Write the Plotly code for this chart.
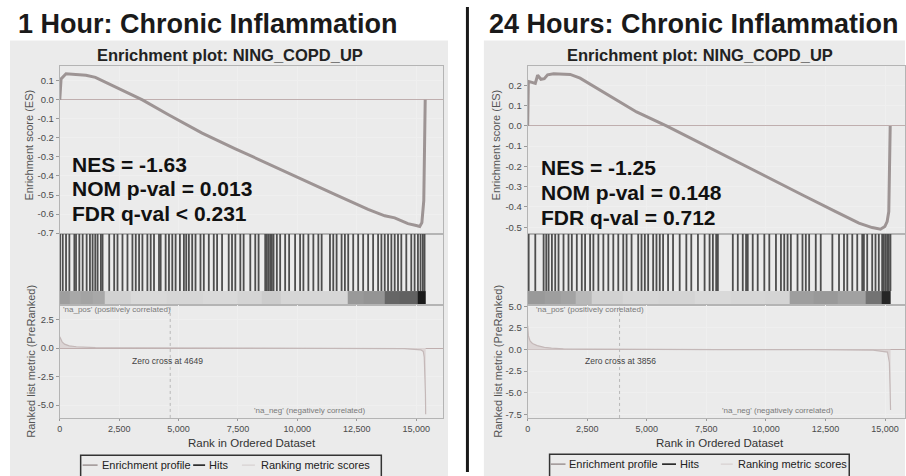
import plotly.graph_objects as go

W, H = 906, 476
FONT = "Liberation Sans"


def px(x):
    return x / W


def py(y):
    return 1 - y / H


# ---------------- data ----------------
left_title = "1 Hour: Chronic Inflammation"
right_title = "24 Hours: Chronic Inflammation"
subtitle = "Enrichment plot: NING_COPD_UP"
left_stats = ["NES = -1.63", "NOM p-val = 0.013", "FDR q-val < 0.231"]
right_stats = ["NES = -1.25", "NOM p-val = 0.148", "FDR q-val = 0.712"]
left_zero_cross = 4649
right_zero_cross = 3856

x_tick_vals = [0, 2500, 5000, 7500, 10000, 12500, 15000]
x_tick_text = ["0", "2,500", "5,000", "7,500", "10,000", "12,500", "15,000"]

left_es_tick_vals = [0.1, 0.0, -0.1, -0.2, -0.3, -0.4, -0.5, -0.6, -0.7]
left_es_tick_text = ["0.1", "0.0", "-0.1", "-0.2", "-0.3", "-0.4", "-0.5", "-0.6", "-0.7"]
right_es_tick_vals = [0.2, 0.1, 0.0, -0.1, -0.2, -0.3, -0.4, -0.5]
right_es_tick_text = ["0.2", "0.1", "0.0", "-0.1", "-0.2", "-0.3", "-0.4", "-0.5"]
left_metric_tick_vals = [2.5, 0.0, -2.5, -5.0]
left_metric_tick_text = ["2.5", "0.0", "-2.5", "-5.0"]
right_metric_tick_vals = [5.0, 2.5, 0.0, -2.5, -5.0, -7.5]
right_metric_tick_text = ["5.0", "2.5", "0.0", "-2.5", "-5.0", "-7.5"]

# running enrichment score
left_es_rank = [0, 20, 55, 265, 600, 1103, 1500, 1802, 2100, 2500, 3000, 3478, 4596,
                5992, 7390, 8787, 10183, 11577, 12977, 13677, 14096, 14654, 15000,
                15150, 15240, 15320, 15350, 15380]
left_es_value = [0.0, 0.09, 0.11, 0.137, 0.133, 0.129, 0.118, 0.10, 0.085, 0.057, 0.028,
                 0.0, -0.08, -0.175, -0.257, -0.338, -0.415, -0.496, -0.575, -0.609,
                 -0.62, -0.65, -0.66, -0.665, -0.645, -0.53, -0.27, 0.0]

right_es_rank = [0, 28, 180, 320, 418, 557, 697, 836, 1087, 1500, 1783, 2200, 3176,
                 4569, 5823, 7355, 8748, 10141, 11534, 12927, 13902, 14459, 14807,
                 14989, 15086, 15156, 15190, 15215]
right_es_value = [0.0, 0.22, 0.215, 0.21, 0.25, 0.23, 0.233, 0.252, 0.257, 0.256, 0.254,
                  0.236, 0.167, 0.069, 0.0, -0.092, -0.177, -0.259, -0.341, -0.423,
                  -0.48, -0.502, -0.51, -0.497, -0.472, -0.423, -0.21, 0.0]

# gene-set hit positions (ranks)
left_hits = [14, 126, 265, 405, 615, 685, 824, 964, 1132, 1271, 1383, 1495, 1593, 1732,
             1802, 2082, 2291, 2431, 2640, 2850, 3059, 3199, 3339, 3479, 3688, 3828,
             3967, 4177, 4247, 4456, 4596, 4736, 4876, 5057, 5225, 5323, 5434, 5574,
             5714, 5923, 6063, 6273, 6482, 6622, 6831, 7111, 7250, 7390, 7600, 7739,
             8019, 8228, 8368, 8647, 8717, 8787, 8857, 8927, 8997, 9136, 9276, 9486,
             9653, 9905, 10114, 10254, 10464, 10673, 10883, 11022, 11372, 11511, 11651,
             11861, 12000, 12140, 12350, 12559, 12769, 12978, 13188, 13397, 13537,
             13677, 13816, 13956, 14096, 14235, 14375, 14585, 14794, 14934, 15074,
             15185, 15283, 15353]
right_hits = [42, 320, 669, 780, 878, 1017, 1156, 1295, 1504, 1713, 1853, 2062, 2271,
              2410, 2619, 2758, 2967, 3176, 3385, 3594, 3803, 4012, 4151, 4360, 4638,
              4778, 4917, 5057, 5266, 5405, 5544, 5683, 5892, 6101, 6380, 6659, 6867,
              7146, 7425, 7634, 7773, 7912, 7982, 8609, 8818, 9027, 9166, 9236, 9445,
              9654, 9932, 10141, 10420, 10629, 10768, 10907, 11046, 11325, 11534, 11673,
              11813, 12091, 12300, 12788, 13066, 13275, 13415, 13624, 13832, 14041,
              14111, 14250, 14459, 14598, 14737, 14877, 14947, 15016, 15086, 15156,
              15225]

# rank-metric colour band (grey level 0 = black, 1 = white), bin edges in rank
left_band_edges = [0, 400, 900, 1400, 1900, 3000, 4500, 6000, 7500, 8500, 9300, 10500,
                   12140, 12800, 13677, 14300, 15074, 15400]
left_band_level = [0.62, 0.66, 0.64, 0.66, 0.82, 0.85, 0.84, 0.85, 0.83, 0.80, 0.84,
                   0.84, 0.60, 0.58, 0.40, 0.38, 0.10]
right_band_edges = [0, 700, 1400, 2000, 2689, 4000, 5500, 7000, 8500, 10000, 10977,
                    12000, 13000, 14181, 14877, 15230]
right_band_level = [0.60, 0.62, 0.64, 0.72, 0.82, 0.84, 0.83, 0.85, 0.84, 0.83, 0.62,
                    0.60, 0.63, 0.45, 0.15]

# ranked list metric
left_metric_rank = [0, 30, 100, 200, 400, 700, 1000, 1500, 2500, 3400, 4649, 8000,
                    12000, 14500, 15200, 15300, 15340, 15370, 15390, 15400]
left_metric_value = [1.0, 0.8, 0.55, 0.35, 0.2, 0.12, 0.08, 0.05, 0.03, 0.02, 0.0,
                     -0.01, -0.02, -0.05, -0.15, -0.3, -0.8, -2.0, -4.0, -5.8]
right_metric_rank = [0, 30, 100, 200, 400, 700, 1000, 1500, 2500, 3500, 3856, 8000,
                     12000, 14500, 15100, 15180, 15210, 15230]
right_metric_value = [2.75, 1.6, 1.0, 0.7, 0.45, 0.25, 0.15, 0.08, 0.04, 0.02, 0.0,
                      -0.01, -0.03, -0.08, -0.3, -1.5, -4.5, -7.0]

legend_labels = ["Enrichment profile", "Hits", "Ranking metric scores"]

# ---------------- styles ----------------
ES_COLOR = "#9d9494"
HIT_COLOR = "#4e4e4e"
METRIC_LINE = "#c4b8b8"
METRIC_FILL = "#dcd5d5"
GRID = "#efefef"
FRAME = "#b4b4b4"
ZERO = "#bfaeae"
PANEL = "#ebebeb"
TICKFONT = dict(family=FONT, size=9.5, color="#4a4a4a")

fig = go.Figure()


def hit_xy(hits):
    xs, ys = [], []
    for h in hits:
        xs += [h, h, None]
        ys += [0.195, 1.0, None]
    return xs, ys


panels = [
    dict(es_r=left_es_rank, es_v=left_es_value, hits=left_hits, be=left_band_edges,
         bl=left_band_level, mr=left_metric_rank, mv=left_metric_value, ax=["", "2", "3"]),
    dict(es_r=right_es_rank, es_v=right_es_value, hits=right_hits, be=right_band_edges,
         bl=right_band_level, mr=right_metric_rank, mv=right_metric_value, ax=["4", "5", "6"]),
]

for p in panels:
    a1, a2, a3 = p["ax"]
    fig.add_trace(go.Scatter(x=p["es_r"], y=p["es_v"], mode="lines",
                             line=dict(color=ES_COLOR, width=3),
                             xaxis="x" + a1, yaxis="y" + a1, showlegend=False,
                             hoverinfo="skip"))
    fig.add_trace(go.Heatmap(z=[p["bl"]], x=p["be"], y=[0, 0.195], zmin=0, zmax=1,
                             colorscale=[[0, "rgb(0,0,0)"], [1, "rgb(255,255,255)"]],
                             showscale=False, xaxis="x" + a2, yaxis="y" + a2,
                             hoverinfo="skip"))
    hx, hy = hit_xy(p["hits"])
    fig.add_trace(go.Scatter(x=hx, y=hy, mode="lines",
                             line=dict(color=HIT_COLOR, width=1.8),
                             xaxis="x" + a2, yaxis="y" + a2, showlegend=False,
                             hoverinfo="skip"))
    fig.add_trace(go.Scatter(x=p["mr"], y=p["mv"], mode="lines", fill="tozeroy",
                             fillcolor=METRIC_FILL, line=dict(color=METRIC_LINE, width=1.2),
                             xaxis="x" + a3, yaxis="y" + a3, showlegend=False,
                             hoverinfo="skip"))

# ---------------- axes ----------------
geom = [
    dict(x0=57, x1=442, xr=[0, 16131],
         es_rng=[-0.705, 0.178], es_tv=left_es_tick_vals, es_tt=left_es_tick_text,
         m_rng=[-6.12, 3.79], m_tv=left_metric_tick_vals, m_tt=left_metric_tick_text,
         ax=["", "2", "3"]),
    dict(x0=527, x1=906, xr=[0, 15836],
         es_rng=[-0.534, 0.296], es_tv=right_es_tick_vals, es_tt=right_es_tick_text,
         m_rng=[-7.91, 5.16], m_tv=right_metric_tick_vals, m_tt=right_metric_tick_text,
         ax=["4", "5", "6"]),
]
ES_TOP, ES_BOT, HIT_BOT, M_BOT = 63, 234, 306, 421

layout_axes = {}
for g in geom:
    a1, a2, a3 = g["ax"]
    xd = [px(g["x0"]), px(g["x1"])]
    common_x = dict(domain=xd, range=g["xr"], tickvals=x_tick_vals, showline=True,
                    mirror=True, linecolor=FRAME, zeroline=False, fixedrange=True)
    layout_axes["xaxis" + a1] = dict(common_x, showticklabels=False, showgrid=True,
                                     gridcolor=GRID, anchor="y" + a1)
    layout_axes["xaxis" + a2] = dict(common_x, showticklabels=False, showgrid=False,
                                     anchor="y" + a2)
    layout_axes["xaxis" + a3] = dict(common_x, ticktext=x_tick_text, showgrid=True,
                                     gridcolor=GRID, ticks="outside", ticklen=2,
                                     tickcolor="#999", tickfont=dict(TICKFONT, size=9),
                                     anchor="y" + a3)
    layout_axes["yaxis" + a1] = dict(domain=[py(ES_BOT), py(ES_TOP)], range=g["es_rng"],
                                     tickvals=g["es_tv"], ticktext=g["es_tt"],
                                     showgrid=True, gridcolor=GRID, showline=True,
                                     mirror=True, linecolor=FRAME, zeroline=True,
                                     zerolinecolor=ZERO, zerolinewidth=1.4,
                                     ticks="outside", ticklen=3, tickcolor="#999",
                                     tickfont=TICKFONT, anchor="x" + a1, fixedrange=True)
    layout_axes["yaxis" + a2] = dict(domain=[py(HIT_BOT), py(ES_BOT)], range=[0, 1],
                                     showticklabels=False, showgrid=False, showline=True,
                                     mirror=True, linecolor=FRAME, zeroline=False,
                                     anchor="x" + a2, fixedrange=True)
    layout_axes["yaxis" + a3] = dict(domain=[py(M_BOT), py(HIT_BOT)], range=g["m_rng"],
                                     tickvals=g["m_tv"], ticktext=g["m_tt"],
                                     showgrid=True, gridcolor=GRID, showline=True,
                                     mirror=True, linecolor=FRAME, zeroline=True,
                                     zerolinecolor=ZERO, zerolinewidth=1.2,
                                     ticks="outside", ticklen=3, tickcolor="#999",
                                     tickfont=TICKFONT, anchor="x" + a3, fixedrange=True)

# ---------------- decorations ----------------
shapes = [
    dict(type="rect", xref="paper", yref="paper", x0=px(7), x1=px(447), y0=py(480),
         y1=py(37), fillcolor=PANEL, line=dict(width=0), layer="below"),
    dict(type="rect", xref="paper", yref="paper", x0=px(483), x1=px(906), y0=py(480),
         y1=py(37), fillcolor=PANEL, line=dict(width=0), layer="below"),
    dict(type="line", xref="paper", yref="paper", x0=px(466.5), x1=px(466.5), y0=py(476),
         y1=py(3), line=dict(color="#1a1a1a", width=3)),
    dict(type="line", xref="x3", yref="y3 domain", x0=left_zero_cross, x1=left_zero_cross,
         y0=0, y1=1, line=dict(color="#b8b8b8", width=1, dash="dot")),
    dict(type="line", xref="x6", yref="y6 domain", x0=right_zero_cross,
         x1=right_zero_cross, y0=0, y1=1, line=dict(color="#b8b8b8", width=1, dash="dot")),
]

annotations = []


def text(x, y, s, size, color="#111", bold=False, xanchor="center", angle=0, **kw):
    d = dict(x=x, y=y, xref=kw.pop("xref", "paper"), yref=kw.pop("yref", "paper"),
             text=("<b>%s</b>" % s) if bold else s, showarrow=False, xanchor=xanchor,
             yanchor="middle", textangle=angle,
             font=dict(family=FONT, size=size, color=color))
    d.update(kw)
    annotations.append(d)


# titles
text(px(206), py(20), left_title, 27, "#1a1a1a", bold=True)
text(px(694), py(20), right_title, 27, "#1a1a1a", bold=True)
text(px(228), py(52), subtitle, 16.5, "#222", bold=True)
text(px(700), py(52), subtitle, 16.5, "#222", bold=True)

# stats
for i, s in enumerate(left_stats):
    text(px(67), py(163 + 25 * i), s, 21, "#111", bold=True, xanchor="left")
for i, s in enumerate(right_stats):
    text(px(538), py(166 + 25.5 * i), s, 21, "#111", bold=True, xanchor="left")

# axis titles
for xc in (26, 495):
    text(px(xc), py(143), "Enrichment score (ES)", 11, "#555", angle=-90)
    text(px(xc + 2), py(363), "Ranked list metric (PreRanked)", 11, "#555", angle=-90)
text(px(250), py(446), "Rank in Ordered Dataset", 11.5, "#333")
text(px(720), py(446), "Rank in Ordered Dataset", 11.5, "#333")

# in-plot labels
text(px(58), py(311), "'na_pos' (positively correlated)", 8, "#7a7a7a", xanchor="left")
text(px(533), py(311), "'na_pos' (positively correlated)", 8, "#7a7a7a", xanchor="left")
text(px(250), py(413), "'na_neg' (negatively correlated)", 8, "#7a7a7a", xanchor="left")
text(px(720), py(413), "'na_neg' (negatively correlated)", 8, "#7a7a7a", xanchor="left")
text(left_zero_cross - 100, py(363), "Zero cross at %d" % left_zero_cross, 8.5, "#444",
     xref="x3")
text(right_zero_cross + 20, py(363), "Zero cross at %d" % right_zero_cross, 8.5, "#444",
     xref="x6")

# legends drawn as boxes with sample lines
for (bx0, bx1, top, l1, t1, l2, t2, l3, t3) in [
    (78, 380, 459, (80, 95), 97, (191, 203), 205, (240, 253), 257),
    (549, 850, 458, (550, 565), 566, (662, 676), 678, (721, 733), 736),
]:
    shapes.append(dict(type="rect", xref="paper", yref="paper", x0=px(bx0), x1=px(bx1),
                       y0=py(490), y1=py(top), line=dict(color="#333", width=1.5),
                       fillcolor=PANEL))
    ym = top + 10
    shapes.append(dict(type="line", xref="paper", yref="paper", x0=px(l1[0]), x1=px(l1[1]),
                       y0=py(ym), y1=py(ym), line=dict(color=ES_COLOR, width=1.5)))
    shapes.append(dict(type="line", xref="paper", yref="paper", x0=px(l2[0]), x1=px(l2[1]),
                       y0=py(ym), y1=py(ym), line=dict(color="#111", width=1.5)))
    shapes.append(dict(type="line", xref="paper", yref="paper", x0=px(l3[0]), x1=px(l3[1]),
                       y0=py(ym), y1=py(ym), line=dict(color="#d6d0d0", width=1.2)))
    text(px(t1), py(ym), legend_labels[0], 11, "#222", xanchor="left")
    text(px(t2), py(ym), legend_labels[1], 11, "#222", xanchor="left")
    text(px(t3), py(ym), legend_labels[2], 11, "#222", xanchor="left")

fig.update_layout(
    width=W, height=H, margin=dict(l=0, r=0, t=0, b=0, pad=0),
    paper_bgcolor="white", plot_bgcolor="white", showlegend=False,
    shapes=shapes, annotations=annotations, **layout_axes,
)

fig.write_html(
    "out.html",
    config={"displayModeBar": False},
    post_script="document.body.style.margin='0';document.documentElement.style.overflow='hidden';document.body.style.overflow='hidden';",
)
